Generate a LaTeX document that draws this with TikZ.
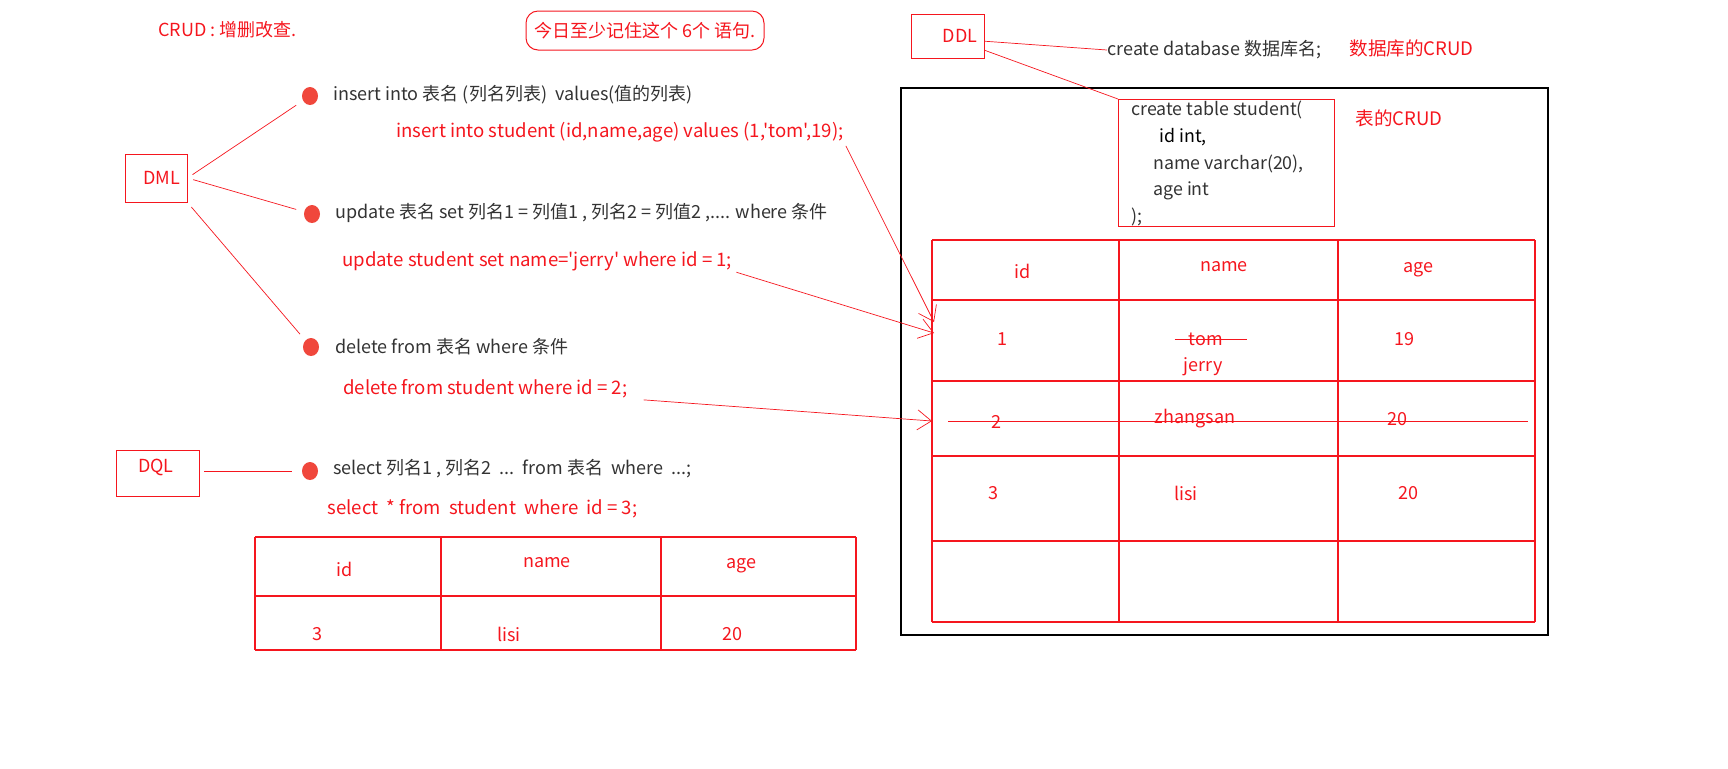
\documentclass[tikz,border=0pt]{standalone}
\usepackage{fontspec}
\newfontfamily\yh{Noto Sans CJK SC}
\usepackage{xcolor}
\usetikzlibrary{arrows.meta,positioning,shapes.geometric}
\definecolor{redink}{HTML}{F5161E}
\definecolor{dotred}{HTML}{F0473C}
\definecolor{greyink}{HTML}{333333}

\begin{document}
\begin{tikzpicture}[x=0.5pt,y=-0.5pt,
  note/.style={inner sep=0pt,anchor=west,text=redink,font=\yh\fontsize{9.3}{11}\selectfont},
  cmd/.style={inner sep=0pt,anchor=west,text=greyink,font=\yh\fontsize{9}{11}\selectfont},
  cell/.style={inner sep=0pt,text=redink,font=\yh\fontsize{9}{11}\selectfont},
  kind/.style={draw=redink,line width=0.5pt,inner sep=0pt,text=redink,font=\yh\fontsize{9}{11}\selectfont},
  dot/.style={ellipse,fill=dotred,inner sep=0pt,minimum width=8pt,minimum height=9pt},
  ln/.style={draw=redink,line width=0.35pt},
  ar/.style={ln,-{Straight Barb[length=7pt,width=10pt,line width=0.35pt]}},
  grid/.style={draw=redink,line width=0.6pt}]
  \useasboundingbox (0,0) rectangle (1728,768);
  % titles
  \node[note,font=\yh\fontsize{9}{11}\selectfont] (crud) at (158,30) {CRUD : 增删改查.};
  \node[kind,rounded corners=6pt,minimum width=119pt,minimum height=19.5pt] (memo) at (645,30.5) {今日至少记住这个 6个 语句.};
  % DML
  \node[kind,minimum width=31pt,minimum height=24pt,text width=24pt,align=right] (dml) at (156,178) {DML};
  \node[dot] (b1) at (310,96) {};
  \node[dot] (b2) at (312,214) {};
  \node[dot] (b3) at (311,347) {};
  \node[cmd] (ins) at (333,95) {insert into 表名 (列名列表)\ \ values(值的列表)};
  \node[note] (insx) at (396,132) {insert into student (id,name,age) values (1,'tom',19);};
  \node[cmd] (upd) at (335,213) {update 表名 set 列名1 = 列值1 , 列名2 = 列值2 ,.... where 条件};
  \node[note] (updx) at (342,261) {update student set name='jerry' where id = 1;};
  \node[cmd] (del) at (335,347) {delete from 表名 where 条件};
  \node[note] (delx) at (343,389) {delete from student where id = 2;};
  \draw[ln,shorten <=3pt,shorten >=4pt] (dml.east) -- (b1);
  \draw[ln,shorten <=3pt,shorten >=4pt] (dml.east) -- (b2);
  \draw[ln,shorten <=3pt,shorten >=4pt] (dml.south east) -- (b3);
  % DQL
  \node[kind,minimum width=41.5pt,minimum height=23pt,anchor=north west] (dql) at (116,450) {};
  \node[cell] (dqlt) at (156,467) {DQL};
  \node[dot] (b4) at (310,471) {};
  \node[cmd] (sel) at (333,469) {select 列名1 , 列名2\ \ ...\ \ from 表名\ \ where\ \ ...;};
  \node[note] (selx) at (327,509) {select\ \ * from\ \ student\ \ where\ \ id = 3;};
  \draw[ln,line width=0.5pt,shorten <=2pt,shorten >=5pt] (dql.east |- b4) -- (b4);
  % DQL result
  \foreach \x in {255,441,661,856} \draw[grid] (\x,537) -- (\x,650);
  \foreach \y in {537,596,650} \draw[grid] (255,\y) -- (856,\y);
  \node[cell] (qid) at (345,569) {id};
  \node[cell] (qname) at (547,563) {name};
  \node[cell] (qage) at (741,566) {age};
  \node[cell] (qv1) at (317,634) {3};
  \node[cell] (qv2) at (509,634) {lisi};
  \node[cell] (qv3) at (732,634) {20};
  % DDL
  \node[kind,minimum width=36.5pt,minimum height=22pt,text width=30pt,align=right] (ddl) at (947.5,36) {DDL};
  \node[cmd] (cdb) at (1107,50) {create database 数据库名;};
  \node[note] (dbcrud) at (1349,48) {数据库的CRUD};
  \draw[draw=black,line width=0.6pt] (901,88) rectangle (1548,635);
  \node[kind,minimum width=108pt,minimum height=63.5pt,anchor=north west] (ctab) at (1118,99) {};
  \node[cmd,anchor=north west,align=left,font=\yh\fontsize{8.9}{13.3}\selectfont] (ctabt) at (1131,101)
    {create table student(\\\hspace{14pt}\textcolor{black}{id int,}\\\hspace{11pt}name varchar(20),\\\hspace{11pt}age int\\);};
  \node[note] (tbcrud) at (1355,118) {表的CRUD};
  \draw[ln] (ddl.-8) -- (cdb.west);
  \draw[ln] (ddl.-21) -- (ctab.north west);
  % student table
  \foreach \x in {932,1119,1338,1535} \draw[grid] (\x,240) -- (\x,622);
  \foreach \y in {240,300,381,456,541,622} \draw[grid] (932,\y) -- (1535,\y);
  \node[cell] (hid) at (1023,271) {id};
  \node[cell] (hname) at (1224,267) {name};
  \node[cell] (hage) at (1418,270) {age};
  \node[cell] (r1a) at (1002,339) {1};
  \node[cell] (r1b) at (1206,339) {tom};
  \node[cell] (r1c) at (1203,367) {jerry};
  \node[cell] (r1d) at (1404,339) {19};
  \node[cell] (r2a) at (996,422) {2};
  \node[cell] (r2b) at (1195,419) {zhangsan};
  \node[cell] (r2c) at (1397,419) {20};
  \node[cell] (r3a) at (993,493) {3};
  \node[cell] (r3b) at (1186,493) {lisi};
  \node[cell] (r3c) at (1408,493) {20};
  \draw[ln,line width=0.5pt] ([xshift=-7pt]r1b.west) -- ([xshift=12pt]r1b.east);
  \coordinate (cut1) at (948,421);
  \coordinate (cut2) at (1528,421);
  \draw[ln,line width=0.5pt] (cut1) -- (cut2);
  \coordinate (t1) at (934,322);
  \coordinate (t2) at (934,333);
  \coordinate (t3) at (932,421);
  \draw[ar,shorten <=2pt] (insx.south east) -- (t1);
  \draw[ar,shorten <=2pt] (updx.south east) -- (t2);
  \draw[ar,shorten <=8pt] (delx.south east) -- (t3);
\end{tikzpicture}
\end{document}
